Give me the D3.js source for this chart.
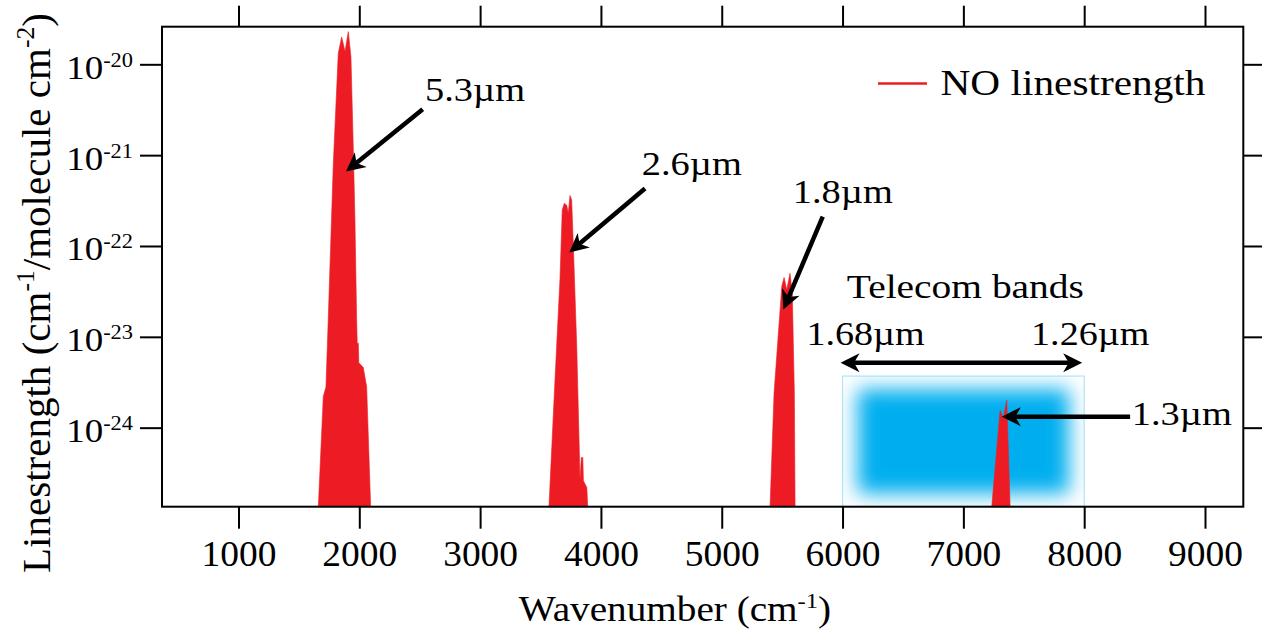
<!DOCTYPE html>
<html lang="en">
<head>
<meta charset="utf-8">
<title>NO linestrength</title>
<script src="https://cdn.jsdelivr.net/npm/d3@7"></script>
<style>
  body { margin: 0; background: #fff; }
  svg text { font-family: "Liberation Serif", "Times New Roman", serif; fill: #000; }
</style>
</head>
<body>
<script>

    // tick values
    var xTicks = [1000, 2000, 3000, 4000, 5000, 6000, 7000, 8000, 9000];
    var yTicks = [1e-20, 1e-21, 1e-22, 1e-23, 1e-24];

    // band envelopes: wavenumber (cm-1) and linestrength (cm-1/molecule cm-2)
    // 1e-25 is below the axis, the band just goes down to the floor there
    var band53Wn = [1661, 1702, 1724, 1743, 1785, 1826, 1854, 1882, 1909, 1931, 1950, 1964, 1978, 1983, 1992, 1996, 2033, 2061, 2094];
    var band53S  = [1e-25, 2.2e-24, 2.8e-24, 1.55e-23, 8.1e-22, 1.32e-20, 2.0e-20, 1.38e-20, 2.29e-20, 1.2e-20, 1.23e-21, 1.95e-22, 1.55e-23, 8.5e-24, 8.5e-24, 5.2e-24, 4.6e-24, 2.8e-24, 1e-25];

    var band26Wn = [3570, 3620, 3661, 3680, 3697, 3717, 3730, 3744, 3758, 3772, 3800, 3827, 3838, 3850, 3855, 3883, 3891];
    var band26S  = [1e-25, 3.4e-24, 4.3e-23, 2.5e-22, 2.95e-22, 2.8e-22, 2.3e-22, 3.6e-22, 3.2e-22, 9.8e-23, 7.8e-24, 2.7e-25, 4.7e-25, 4.7e-25, 2.6e-25, 2.2e-25, 1e-25];

    var band18Wn = [5400, 5433, 5497, 5516, 5538, 5565, 5584, 5601, 5607];
    var band18S  = [1e-25, 2.4e-24, 3.6e-23, 4.5e-23, 3.3e-23, 5.0e-23, 3.0e-23, 2.4e-24, 1e-25];

    var band13Wn = [7235, 7304, 7331, 7359, 7387];
    var band13S  = [1e-25, 1.55e-24, 1.27e-24, 2.0e-24, 1e-25];

    // annotations (data units)
    var arrowLabels = ["5.3µm", "2.6µm", "1.8µm", "1.3µm"];
    var arrowTipWn  = [1890, 3738, 5510, 7318];
    var arrowTipS   = [6.6e-22, 8.5e-23, 2.0e-23, 1.32e-24];
    var arrowTailWn = [2525, 4365, 5836, 8380];
    var arrowTailS  = [3.2e-21, 4.3e-22, 2.1e-22, 1.32e-24];
    var labelWn     = [2544, 4338, 5588, 8394];
    var labelS      = [3.9e-21, 6.0e-22, 2.97e-22, 1.07e-24];

    var telecomWn = [6000, 8000];
    var telecomTop = 3.7e-24;
    var telecomArrowS = 5.2e-24;
    var telecomEnds = ["1.68µm", "1.26µm"];

    var w = 1262;
    var h = 629;
    var margin = {top: 26.7, right: 18.7, bottom: 122.3, left: 162};
    var red = "#ed1c24";

    var svg = d3.select("body").append("svg")
        .attr("width", w)
        .attr("height", h);

    var x = d3.scaleLinear()
        .domain([367, 9317])
        .range([margin.left, w - margin.right]);

    var y = d3.scaleLog()
        .domain([Math.pow(10, -24.87), Math.pow(10, -19.586)])
        .range([h - margin.bottom, margin.top])
        .clamp(true);

    var x0 = x.range()[0], x1 = x.range()[1];
    var yb = y.range()[0], yt = y.range()[1];

    // the text in the original is a wider face than Times, so widen it a bit
    function stretch(sel, k) {
        sel.each(function() {
            var len = this.getComputedTextLength();
            d3.select(this).attr("textLength", len * k).attr("lengthAdjust", "spacingAndGlyphs");
        });
    }

    // telecom box with blurred blue inside
    var defs = svg.append("defs");
    defs.append("filter").attr("id", "soft")
        .attr("x", "-25%").attr("y", "-25%").attr("width", "150%").attr("height", "150%")
        .append("feGaussianBlur").attr("stdDeviation", 10);
    var bx0 = x(telecomWn[0]), bx1 = x(telecomWn[1]), by0 = y(telecomTop);
    defs.append("clipPath").attr("id", "boxclip")
        .append("rect")
        .attr("x", bx0).attr("y", by0)
        .attr("width", bx1 - bx0).attr("height", yb - by0);

    svg.append("rect")
        .attr("x", bx0).attr("y", by0)
        .attr("width", bx1 - bx0).attr("height", yb - by0)
        .attr("fill", "#fff")
        .attr("stroke", "#b5e4f8")
        .attr("stroke-width", 1.2);
    svg.append("g").attr("clip-path", "url(#boxclip)")
        .append("rect")
        .attr("x", bx0 + 15).attr("y", by0 + 13)
        .attr("width", bx1 - bx0 - 30).attr("height", yb - by0 - 26)
        .attr("fill", "#00aeef")
        .attr("filter", "url(#soft)");

    // bands
    var bands = [[band53Wn, band53S], [band26Wn, band26S], [band18Wn, band18S], [band13Wn, band13S]];
    var area = d3.area()
        .x(function(d) { return x(d[0]); })
        .y0(yb)
        .y1(function(d) { return y(d[1]); });

    bands.forEach(function(b) {
        svg.append("path")
            .datum(d3.zip(b[0], b[1]))
            .attr("d", area)
            .attr("fill", red)
            .attr("stroke", red)
            .attr("stroke-width", 0.6);
    });

    // axes on all four sides, ticks outward
    function styleAxis(g) {
        g.select(".domain").remove();
        g.selectAll(".tick line").attr("stroke", "#000").attr("stroke-width", 2);
        g.attr("font-family", null).attr("font-size", null);
    }

    var gx = svg.append("g")
        .attr("transform", "translate(0," + yb + ")")
        .call(d3.axisBottom(x).tickValues(xTicks).tickSize(22).tickPadding(12).tickFormat(d3.format("d")))
        .call(styleAxis);
    gx.selectAll(".tick text").attr("font-size", 35).call(stretch, 1.07);

    svg.append("g")
        .attr("transform", "translate(0," + yt + ")")
        .call(d3.axisTop(x).tickValues(xTicks).tickSize(21).tickFormat(""))
        .call(styleAxis);

    var gy = svg.append("g")
        .attr("transform", "translate(" + x0 + ",0)")
        .call(d3.axisLeft(y).tickValues(yTicks).tickSize(22).tickPadding(7).tickFormat(""))
        .call(styleAxis);
    gy.selectAll(".tick text")
        .attr("font-size", 33)
        .attr("dy", "0.42em")
        .each(function(d) {
            var t = d3.select(this);
            t.append("tspan").text("10");
            t.append("tspan").attr("font-size", 20).attr("dy", -12)
                .text(String(Math.round(Math.log10(d))));
        })
        .call(stretch, 1.12);

    svg.append("g")
        .attr("transform", "translate(" + x1 + ",0)")
        .call(d3.axisRight(y).tickValues(yTicks).tickSize(19).tickFormat(""))
        .call(styleAxis);

    svg.append("rect")
        .attr("x", x0).attr("y", yt)
        .attr("width", x1 - x0).attr("height", yb - yt)
        .attr("fill", "none")
        .attr("stroke", "#000")
        .attr("stroke-width", 2);

    // axis titles
    var xt = svg.append("text")
        .attr("x", 675)
        .attr("y", 621)
        .attr("text-anchor", "middle")
        .attr("font-size", 35);
    xt.append("tspan").text("Wavenumber (cm");
    xt.append("tspan").attr("font-size", 22).attr("dy", -13).text("-1");
    xt.append("tspan").attr("dy", 13).text(")");
    xt.call(stretch, 1.12);

    var yl = svg.append("text")
        .attr("transform", "translate(50," + 293 + ") rotate(-90)")
        .attr("text-anchor", "middle")
        .attr("font-size", 40);
    yl.append("tspan").text("Linestrength (cm");
    yl.append("tspan").attr("font-size", 25).attr("dy", -16).text("-1");
    yl.append("tspan").attr("dy", 16).text("/molecule cm");
    yl.append("tspan").attr("font-size", 25).attr("dy", -16).text("-2");
    yl.append("tspan").attr("dy", 16).text(")");
    yl.attr("textLength", 560).attr("lengthAdjust", "spacingAndGlyphs");

    // legend
    svg.append("line")
        .attr("x1", 878).attr("x2", 927)
        .attr("y1", 83.5).attr("y2", 83.5)
        .attr("stroke", red)
        .attr("stroke-width", 2.5);
    svg.append("text")
        .attr("x", 940.5).attr("y", 95)
        .attr("font-size", 35)
        .text("NO linestrength")
        .call(stretch, 1.18);

    // arrows
    function head(px, py, ang) {
        svg.append("path")
            .attr("d", "M0,0L-19,-9.5L-13.5,0L-19,9.5Z")
            .attr("fill", "#000")
            .attr("transform", "translate(" + px + "," + py + ") rotate(" + ang + ")");
    }
    function arrow(ax, ay, bx, by, both) {
        // from (ax,ay) to tip (bx,by)
        var ang = Math.atan2(by - ay, bx - ax);
        var ux = Math.cos(ang), uy = Math.sin(ang);
        var sa = both ? 13 : 0;
        svg.append("line")
            .attr("x1", ax + ux * sa).attr("y1", ay + uy * sa)
            .attr("x2", bx - ux * 13).attr("y2", by - uy * 13)
            .attr("stroke", "#000")
            .attr("stroke-width", 4.5);
        head(bx, by, ang * 180 / Math.PI);
        if (both) head(ax, ay, ang * 180 / Math.PI + 180);
    }

    arrowLabels.forEach(function(lab, i) {
        arrow(x(arrowTailWn[i]), y(arrowTailS[i]), x(arrowTipWn[i]), y(arrowTipS[i]), false);
        svg.append("text")
            .attr("x", x(labelWn[i]))
            .attr("y", y(labelS[i]))
            .attr("font-size", 34)
            .text(lab)
            .call(stretch, 1.13);
    });

    // telecom double arrow and labels
    var ta = y(telecomArrowS);
    arrow(x(telecomWn[0]) - 2, ta, x(telecomWn[1]) - 2, ta, true);
    svg.append("text")
        .attr("x", (bx0 + bx1) / 2 + 2)
        .attr("y", 298)
        .attr("text-anchor", "middle")
        .attr("font-size", 34)
        .text("Telecom bands")
        .call(stretch, 1.16);
    svg.append("text")
        .attr("x", bx0 + 23).attr("y", 345)
        .attr("text-anchor", "middle")
        .attr("font-size", 34)
        .text(telecomEnds[0])
        .call(stretch, 1.12);
    svg.append("text")
        .attr("x", bx1 + 6).attr("y", 345)
        .attr("text-anchor", "middle")
        .attr("font-size", 34)
        .text(telecomEnds[1])
        .call(stretch, 1.12);

</script>
</body>
</html>
